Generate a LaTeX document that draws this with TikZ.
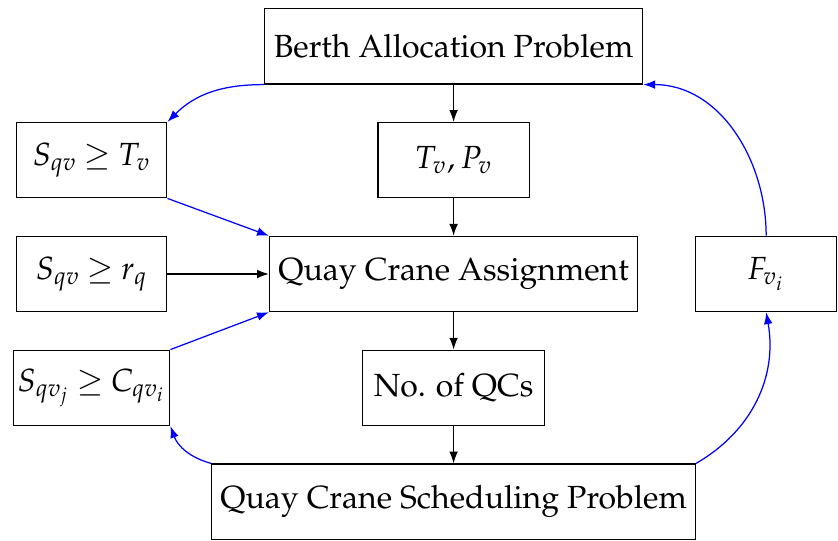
\documentclass[tikz,border=0pt]{standalone}
\usepackage[T1]{fontenc}
\usepackage{mathpazo}
\usetikzlibrary{arrows.meta,positioning,calc}
\newcommand{\tgeq}{\mskip-1mu\geq\mskip-1mu}

\begin{document}
\begin{tikzpicture}[
      box/.style={draw,minimum height=24.2pt,inner sep=2pt,align=center,font=\fontsize{10.3}{12}\selectfont},
      arr/.style={-{Latex[length=3.8pt,width=2.8pt]},draw=black},
      feed/.style={-{Latex[length=3.8pt,width=2.8pt]},draw=blue}]
    % middle column
    \node[box,minimum width=121.6pt] (bap) {Berth Allocation Problem};
    \node[box,minimum width=48.6pt,below=12pt of bap] (tp) {$T_v, P_v$};
    \node[box,minimum width=118.4pt,below=12pt of tp] (qca) {Quay Crane Assignment};
    \node[box,minimum width=58.6pt,below=12pt of qca] (nqc) {No. of QCs};
    \node[box,minimum width=155.5pt,below=12pt of nqc] (qcs) {Quay Crane Scheduling Problem};
    % side boxes
    \node[box,minimum width=48.3pt,inner xsep=0pt,left=32.6pt of qca] (sr) {$S_{qv} \tgeq r_q$};
    \node[box,minimum width=48.3pt,inner xsep=0pt,above=12pt of sr] (st) {$S_{qv} \tgeq T_v$};
    \node[box,minimum width=50.2pt,inner xsep=0pt,below=12pt of sr] (sc) {$S_{qv_j} \tgeq C_{qv_i}$};
    \node[box,minimum width=45.4pt,right=18.2pt of qca] (fv) {$F_{v_i}$};
    \draw[arr] (bap) -- (tp);
    \draw[arr] (tp) -- (qca);
    \draw[arr] (qca) -- (nqc);
    \draw[arr] (nqc) -- (qcs);
    \draw[arr] (sr) -- (qca);
    \draw[feed] (bap.south west) to[out=180,in=45] (st.north east);
    \draw[feed] (st.south east) -- (qca.north west);
    \draw[feed] (sc.north east) -- (qca.south west);
    \draw[feed] (qcs.north west) to[out=165,in=-70] (sc.south east);
    \draw[feed] (qcs.north east) to[out=30,in=-80] (fv.south);
    \draw[feed] (fv.north) to[out=90,in=0] (bap.south east);
    \useasboundingbox ($(sc.west |- bap.north)+(-4.2pt,2.6pt)$) rectangle ($(fv.east |- qcs.south)+(0.2pt,-0.2pt)$);
  \end{tikzpicture}
\end{document}
